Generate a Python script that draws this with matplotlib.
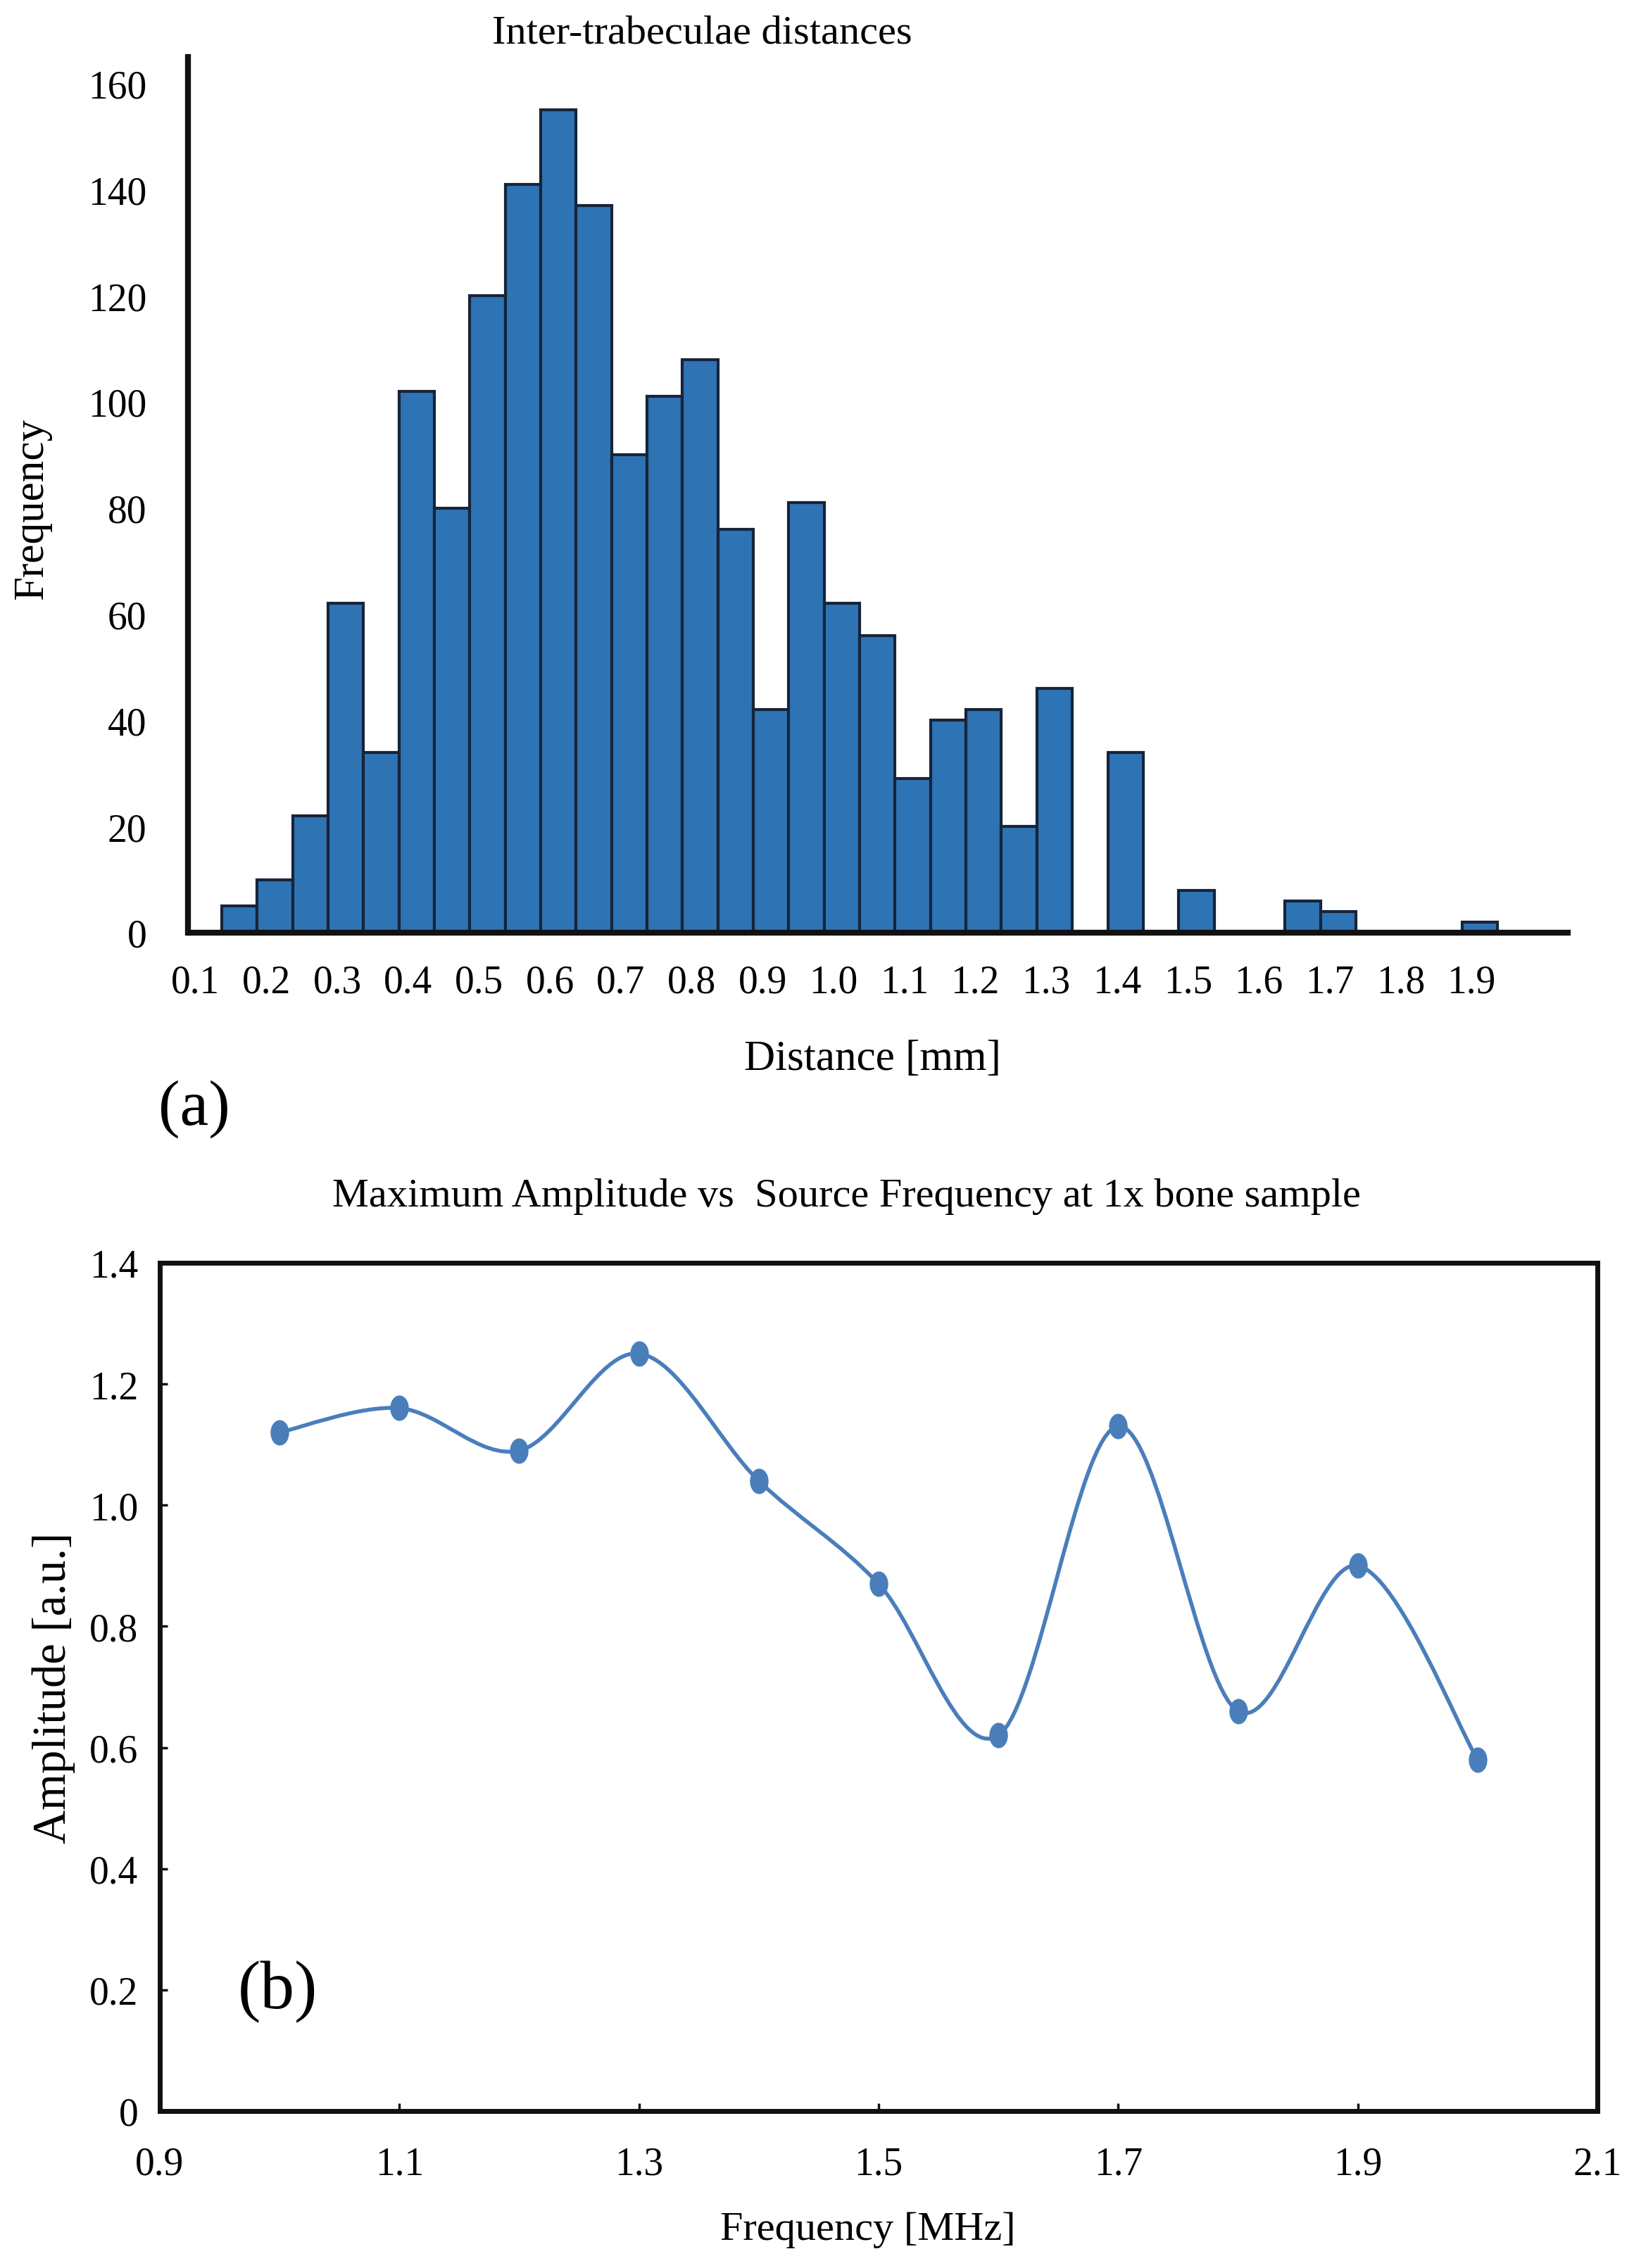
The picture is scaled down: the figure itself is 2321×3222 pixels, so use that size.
import numpy as np
import matplotlib
matplotlib.use("Agg")
import matplotlib.pyplot as plt
from matplotlib.path import Path
from matplotlib.patches import PathPatch

plt.rcParams['font.family'] = ['Liberation Serif', 'DejaVu Serif']

# (a) histogram of inter-trabeculae distances
bin_start = 0.137
bin_width = 0.05
counts = [5, 10, 22, 62, 34, 102, 80, 120, 141, 155, 137, 90, 101, 108, 76, 42,
          81, 62, 56, 29, 40, 42, 20, 46, 0, 34, 0, 8, 0, 0, 6, 4, 0, 0, 0, 2]
dist_ticks = [0.1, 0.2, 0.3, 0.4, 0.5, 0.6, 0.7, 0.8, 0.9, 1.0,
              1.1, 1.2, 1.3, 1.4, 1.5, 1.6, 1.7, 1.8, 1.9]
count_ticks = [0, 20, 40, 60, 80, 100, 120, 140, 160]

# (b) max amplitude vs source frequency
src_freq = [1.0, 1.1, 1.2, 1.3, 1.4, 1.5, 1.6, 1.7, 1.8, 1.9, 2.0]
amplitude = [1.12, 1.16, 1.09, 1.25, 1.04, 0.87, 0.62, 1.13, 0.66, 0.90, 0.58]
freq_ticks = [0.9, 1.1, 1.3, 1.5, 1.7, 1.9, 2.1]
amp_ticks = [0, 0.2, 0.4, 0.6, 0.8, 1.0, 1.2, 1.4]

bar_color = '#2e74b5'
bar_edge = '#16243a'
line_color = '#4a7ebb'


def smooth_path(x, y):
    # excel-like smoothed line: catmull-rom turned into cubic bezier segments
    pts = np.column_stack([x, y])
    p = np.vstack([pts[0], pts, pts[-1]])
    verts = [pts[0]]
    codes = [Path.MOVETO]
    for i in range(1, len(p) - 2):
        c1 = p[i] + (p[i + 1] - p[i - 1]) / 6.0
        c2 = p[i + 1] - (p[i + 2] - p[i]) / 6.0
        verts += [c1, c2, p[i + 1]]
        codes += [Path.CURVE4] * 3
    return Path(verts, codes)


fig = plt.figure(figsize=(23.21, 32.23), dpi=100)

# ---- top panel ----
ax = fig.add_axes([0.1149, 0.5886, 0.8463, 0.3860])
lefts = bin_start + bin_width * np.arange(len(counts))
ax.bar(lefts, counts, width=bin_width, align='edge', color=bar_color,
       edgecolor=bar_edge, linewidth=3)
ax.set_xlim(0.089, 2.04)
ax.set_ylim(0, 165)
ax.set_xticks(dist_ticks)
ax.set_xticklabels(['%.1f' % t for t in dist_ticks])
ax.set_yticks(count_ticks)
ax.tick_params(axis='both', length=0, labelsize=40)
ax.tick_params(axis='x', pad=32)
ax.tick_params(axis='y', pad=42)
for s in ['top', 'right']:
    ax.spines[s].set_visible(False)
for s in ['left', 'bottom']:
    ax.spines[s].set_linewidth(6)
    ax.spines[s].set_color('#111111')
ax.spines['bottom'].set_capstyle('butt')

fig.text(0.4296, 0.9854, 'Inter-trabeculae distances', ha='center', va='center', fontsize=42)
fig.text(0.534, 0.5330, 'Distance [mm]', ha='center', va='center', fontsize=44)
fig.text(0.0195, 0.7757, 'Frequency', ha='center', va='center', rotation=90, fontsize=44)
fig.text(0.1190, 0.5110, '(a)', ha='center', va='center', fontsize=66)

# ---- bottom panel ----
ax2 = fig.add_axes([0.0978, 0.0692, 0.8798, 0.3739])
ax2.add_patch(PathPatch(smooth_path(src_freq, amplitude), facecolor='none',
                        edgecolor=line_color, linewidth=4, zorder=2))
circ = Path.unit_circle()
oval = Path(circ.vertices * [0.72, 1.0], circ.codes)
ax2.plot(src_freq, amplitude, linestyle='none', marker=oval, markersize=25,
         color=line_color, zorder=3)
ax2.set_xlim(0.9, 2.1)
ax2.set_ylim(0, 1.4)
ax2.set_xticks(freq_ticks)
ax2.set_xticklabels(['%.1f' % t for t in freq_ticks])
ax2.set_yticks(amp_ticks)
ax2.set_yticklabels(['0'] + ['%.1f' % t for t in amp_ticks[1:]])
ax2.tick_params(axis='both', direction='in', length=8, width=2.5, labelsize=40,
                color='#111111')
ax2.tick_params(axis='x', pad=36)
ax2.tick_params(axis='y', pad=22)
for s in ax2.spines.values():
    s.set_linewidth(5)
    s.set_color('#111111')

fig.text(0.518, 0.4726, 'Maximum Amplitude vs  Source Frequency at 1x bone sample',
         ha='center', va='center', fontsize=42)
fig.text(0.531, 0.0170, 'Frequency [MHz]', ha='center', va='center', fontsize=42)
fig.text(0.0328, 0.2560, 'Amplitude [a.u.]', ha='center', va='center', rotation=90, fontsize=48)
fig.text(0.170, 0.1220, '(b)', ha='center', va='center', fontsize=70)

fig.savefig('out.png', dpi=100)
